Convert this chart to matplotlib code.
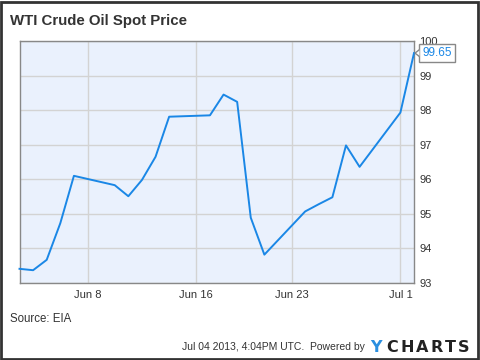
import matplotlib
matplotlib.use("Agg")
import matplotlib.pyplot as plt
from matplotlib.patches import Rectangle, Polygon
import datetime as dt

plt.rcParams['font.family'] = ['Liberation Sans', 'DejaVu Sans']

dates = ["2013-06-03", "2013-06-04", "2013-06-05", "2013-06-06", "2013-06-07",
         "2013-06-10", "2013-06-11", "2013-06-12", "2013-06-13", "2013-06-14",
         "2013-06-17", "2013-06-18", "2013-06-19", "2013-06-20", "2013-06-21",
         "2013-06-24", "2013-06-25", "2013-06-26", "2013-06-27", "2013-06-28",
         "2013-07-01", "2013-07-02"]
prices = [93.41, 93.37, 93.67, 94.73, 96.10,
          95.83, 95.51, 95.98, 96.65, 97.81,
          97.85, 98.45, 98.24, 94.89, 93.82,
          95.07, 95.28, 95.48, 96.98, 96.36,
          97.93, 99.65]
xtick_dates = ["2013-06-08", "2013-06-16", "2013-06-23", "2013-07-01"]
xtick_labels = ["Jun 8", "Jun 16", "Jun 23", "Jul 1"]
yticks = [93, 94, 95, 96, 97, 98, 99, 100]
last_label = "99.65"

x = [dt.datetime.strptime(d, "%Y-%m-%d") for d in dates]
xt = [dt.datetime.strptime(d, "%Y-%m-%d") for d in xtick_dates]

W, H = 480, 360
fig = plt.figure(figsize=(4.8, 3.6), dpi=100)
fig.patch.set_facecolor("white")

def fx(px):
    return px / W

def fy(py):
    return 1 - py / H

# plot area (pixels)
L, R, T, B = 19.5, 414, 41, 283
ax = fig.add_axes([fx(L), fy(B), (R - L) / W, (B - T) / H])
ax.set_facecolor("#eaf1fd")
ax.plot(x, prices, color="#1a87e6", lw=1.4, clip_on=False, zorder=3)
ax.set_xlim(x[0], x[-1])
ax.set_ylim(93, 100)
ax.set_xticks(xt)
ax.set_xticklabels(xtick_labels)
ax.set_yticks(yticks)
ax.yaxis.tick_right()
ax.grid(True, color="#d3d3d3", lw=1)
ax.set_axisbelow(True)
ax.tick_params(axis="both", length=0, labelsize=8, colors="#333333", pad=4)
ax.tick_params(axis="x", pad=5)
for s in ax.spines.values():
    s.set_color("#888888")
    s.set_linewidth(1)

# annotation for last value
ax.annotate(last_label, xy=(x[-1], prices[-1]), xytext=(6.2, 0), textcoords="offset points",
            fontsize=8.5, color="#1a87e6", va="center", ha="left",
            bbox=dict(boxstyle="square,pad=0.28", fc="white", ec="#888888", lw=1),
            annotation_clip=False, zorder=5)
# small pointer from box to point (pixel space)
px_pt, py_pt = ax.transData.transform((matplotlib.dates.date2num(x[-1]), prices[-1]))
ptr = Polygon([(px_pt + 5.5, py_pt + 3.5), (px_pt + 1, py_pt), (px_pt + 5.5, py_pt - 3.5)],
              closed=False, fill=True, fc="white", ec="#888888", lw=1, transform=None,
              zorder=6)
fig.patches.append(ptr)

fig.text(fx(10), fy(21), "WTI Crude Oil Spot Price", fontsize=10.8, fontweight="bold",
         color="#333333", va="center", ha="left")
fig.text(fx(10), fy(319), "Source: EIA", fontsize=8.3, color="#333333", va="center", ha="left")
fig.text(fx(365), fy(347), "Jul 04 2013, 4:04PM UTC.  Powered by", fontsize=7.5,
         color="#333333", va="center", ha="right")

logo_letters = ["Y", "C", "H", "A", "R", "T", "S"]
logo_x = [370, 386, 401, 416, 431, 445, 458]
for ch, lx in zip(logo_letters, logo_x):
    fig.text(fx(lx), fy(347), ch, fontsize=11.5, fontweight="bold",
             color="#2a8fe0" if ch == "Y" else "#222222",
             family=["DejaVu Sans"], va="center", ha="left")

# outer border
fig.patches.append(Rectangle((fx(1), 1.0 / H), (W - 3) / W, (H - 2.5) / H,
                             transform=fig.transFigure, fill=False, ec="#333333", lw=2))

fig.savefig("out.png", dpi=100)
